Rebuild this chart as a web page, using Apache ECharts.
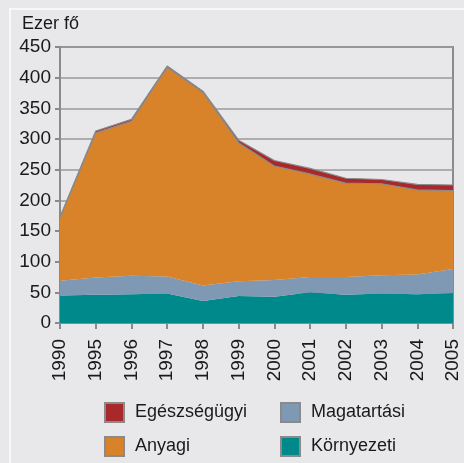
<!DOCTYPE html>
<html>
<head>
<meta charset="utf-8">
<script src="https://cdn.jsdelivr.net/npm/echarts@6/dist/echarts.min.js"></script>
<style>
  html, body { margin: 0; padding: 0; background: #e8e7e9; }
  #frame { position: absolute; left: 9px; top: 8px; width: 600px; height: 600px;
           border-left: 2px solid #f8f8f9; border-top: 2px solid #f8f8f9; }
  #chart { position: absolute; left: 0; top: 0; width: 464px; height: 463px; }
</style>
</head>
<body>
<div id="frame"></div>
<div id="chart"></div>
<script>
// adatok
var years = ['1990', '1995', '1996', '1997', '1998', '1999', '2000', '2001', '2002', '2003', '2004', '2005'];
var kornyezeti = [45, 46, 47, 48, 36, 44, 43, 50, 46, 48, 47, 49];
var magatartasi = [24, 28, 30, 28, 25, 24, 27, 25, 29, 30, 32, 39];
var anyagi = [103, 236, 252, 341, 315, 226, 186, 168, 153, 149, 138, 128];
var egeszsegugyi = [1, 3, 3, 2, 2, 4, 9, 9, 8, 7, 9, 9];
var yTicks = [0, 450, 50];

var font = '"Liberation Sans", Arial, sans-serif';
var chart = echarts.init(document.getElementById('chart'));

function area(name, data, color, line) {
  return {
    name: name,
    type: 'line',
    stack: 'osszes',
    data: data,
    symbol: 'none',
    itemStyle: { color: color },
    lineStyle: line ? { color: '#8a8a8a', width: 1.2 } : { width: 0 },
    areaStyle: { color: color, opacity: 1 }
  };
}

var legendBase = {
  orient: 'vertical', top: 397,
  itemWidth: 19, itemHeight: 19, itemGap: 13, icon: 'rect',
  itemStyle: { borderColor: '#8a8a8a', borderWidth: 2 },
  textStyle: { fontFamily: font, fontSize: 18, color: '#1a1a1a', padding: [0, 0, 0, 6] }
};

var option = {
  animation: false,
  title: {
    text: 'Ezer fő',
    left: 17, top: 10,
    textStyle: { fontFamily: font, fontSize: 18, fontWeight: 'normal', color: '#1a1a1a' }
  },
  grid: {
    left: 60, right: 11, top: 47, bottom: 140,
    show: true, borderColor: '#8a8a8a', borderWidth: 2, backgroundColor: 'transparent'
  },
  legend: [
    Object.assign({}, legendBase, { left: 99, data: ['Egészségügyi', 'Anyagi'] }),
    Object.assign({}, legendBase, { left: 275, data: ['Magatartási', 'Környezeti'] })
  ],
  xAxis: {
    type: 'category',
    data: years,
    boundaryGap: false,
    axisLine: { lineStyle: { color: '#8a8a8a', width: 2 } },
    axisTick: { length: 6, lineStyle: { color: '#8a8a8a', width: 2 } },
    axisLabel: { rotate: 90, margin: 16, fontFamily: font, fontSize: 19, color: '#1a1a1a' }
  },
  yAxis: {
    type: 'value',
    min: yTicks[0], max: yTicks[1], interval: yTicks[2],
    axisLine: { show: true, lineStyle: { color: '#8a8a8a', width: 2 } },
    axisTick: { show: true, length: 5, lineStyle: { color: '#8a8a8a', width: 2 } },
    axisLabel: { margin: 9, fontFamily: font, fontSize: 19, color: '#1a1a1a' },
    splitLine: { lineStyle: { color: '#9a9a9a', width: 1.5 } }
  },
  series: [
    area('Környezeti', kornyezeti, '#00898a', false),
    area('Magatartási', magatartasi, '#7f98b4', false),
    area('Anyagi', anyagi, '#d8832a', true),
    area('Egészségügyi', egeszsegugyi, '#a8282c', true)
  ]
};

chart.setOption(option);
</script>
</body>
</html>
